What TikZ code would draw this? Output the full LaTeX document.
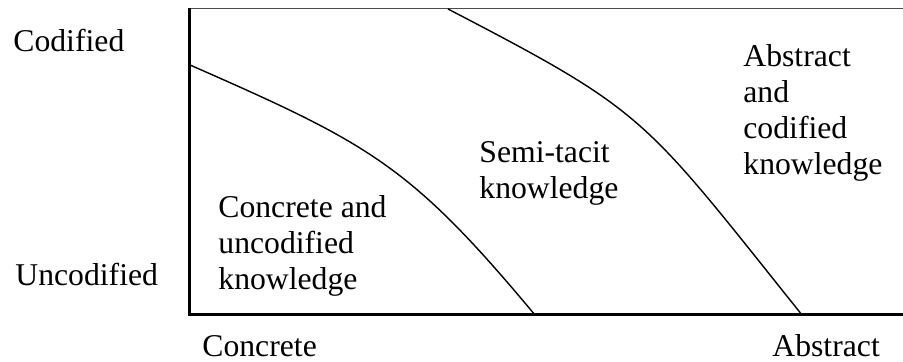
\documentclass[tikz,border=0pt]{standalone}
\usepackage{fontspec}
\setmainfont{Liberation Serif}
\usepackage{tikz}
\tikzset{lbl/.style={anchor=base west, align=left, inner sep=0, font=\rmfamily\fontsize{15.85}{18.15}\selectfont}}
\tikzset{axis line/.style={line width=1.5}}

\begin{document}
\begin{tikzpicture}[x=0.5pt, y=-0.5pt]
\useasboundingbox (0,0) rectangle (903,362);
\draw [line width=0.5, gray!60!black] (189,9) -- (903,9);
\draw [axis line] (189,8) -- (189,315) -- (903,315);
\draw [line width=0.7] (190,65) .. controls (370,144) and (410,165) .. (535,315);
\draw [line width=0.7] (448,9) .. controls (648,113) and (642,115) .. (802,315);
\node[lbl] (codified) at (13,52) {Codified};
\node[lbl] (uncodified) at (15,286) {Uncodified};
\node[lbl] (concrete) at (202,357) {Concrete};
\node[lbl] (abstract) at (772,357) {Abstract};
\node[lbl] (lowzone) at (218,290) {Concrete and\\uncodified\\knowledge};
\node[lbl] (midzone) at (479,199) {Semi-tacit\\knowledge};
\node[lbl] (highzone) at (743,175) {Abstract\\and\\codified\\knowledge};
\end{tikzpicture}
\end{document}
